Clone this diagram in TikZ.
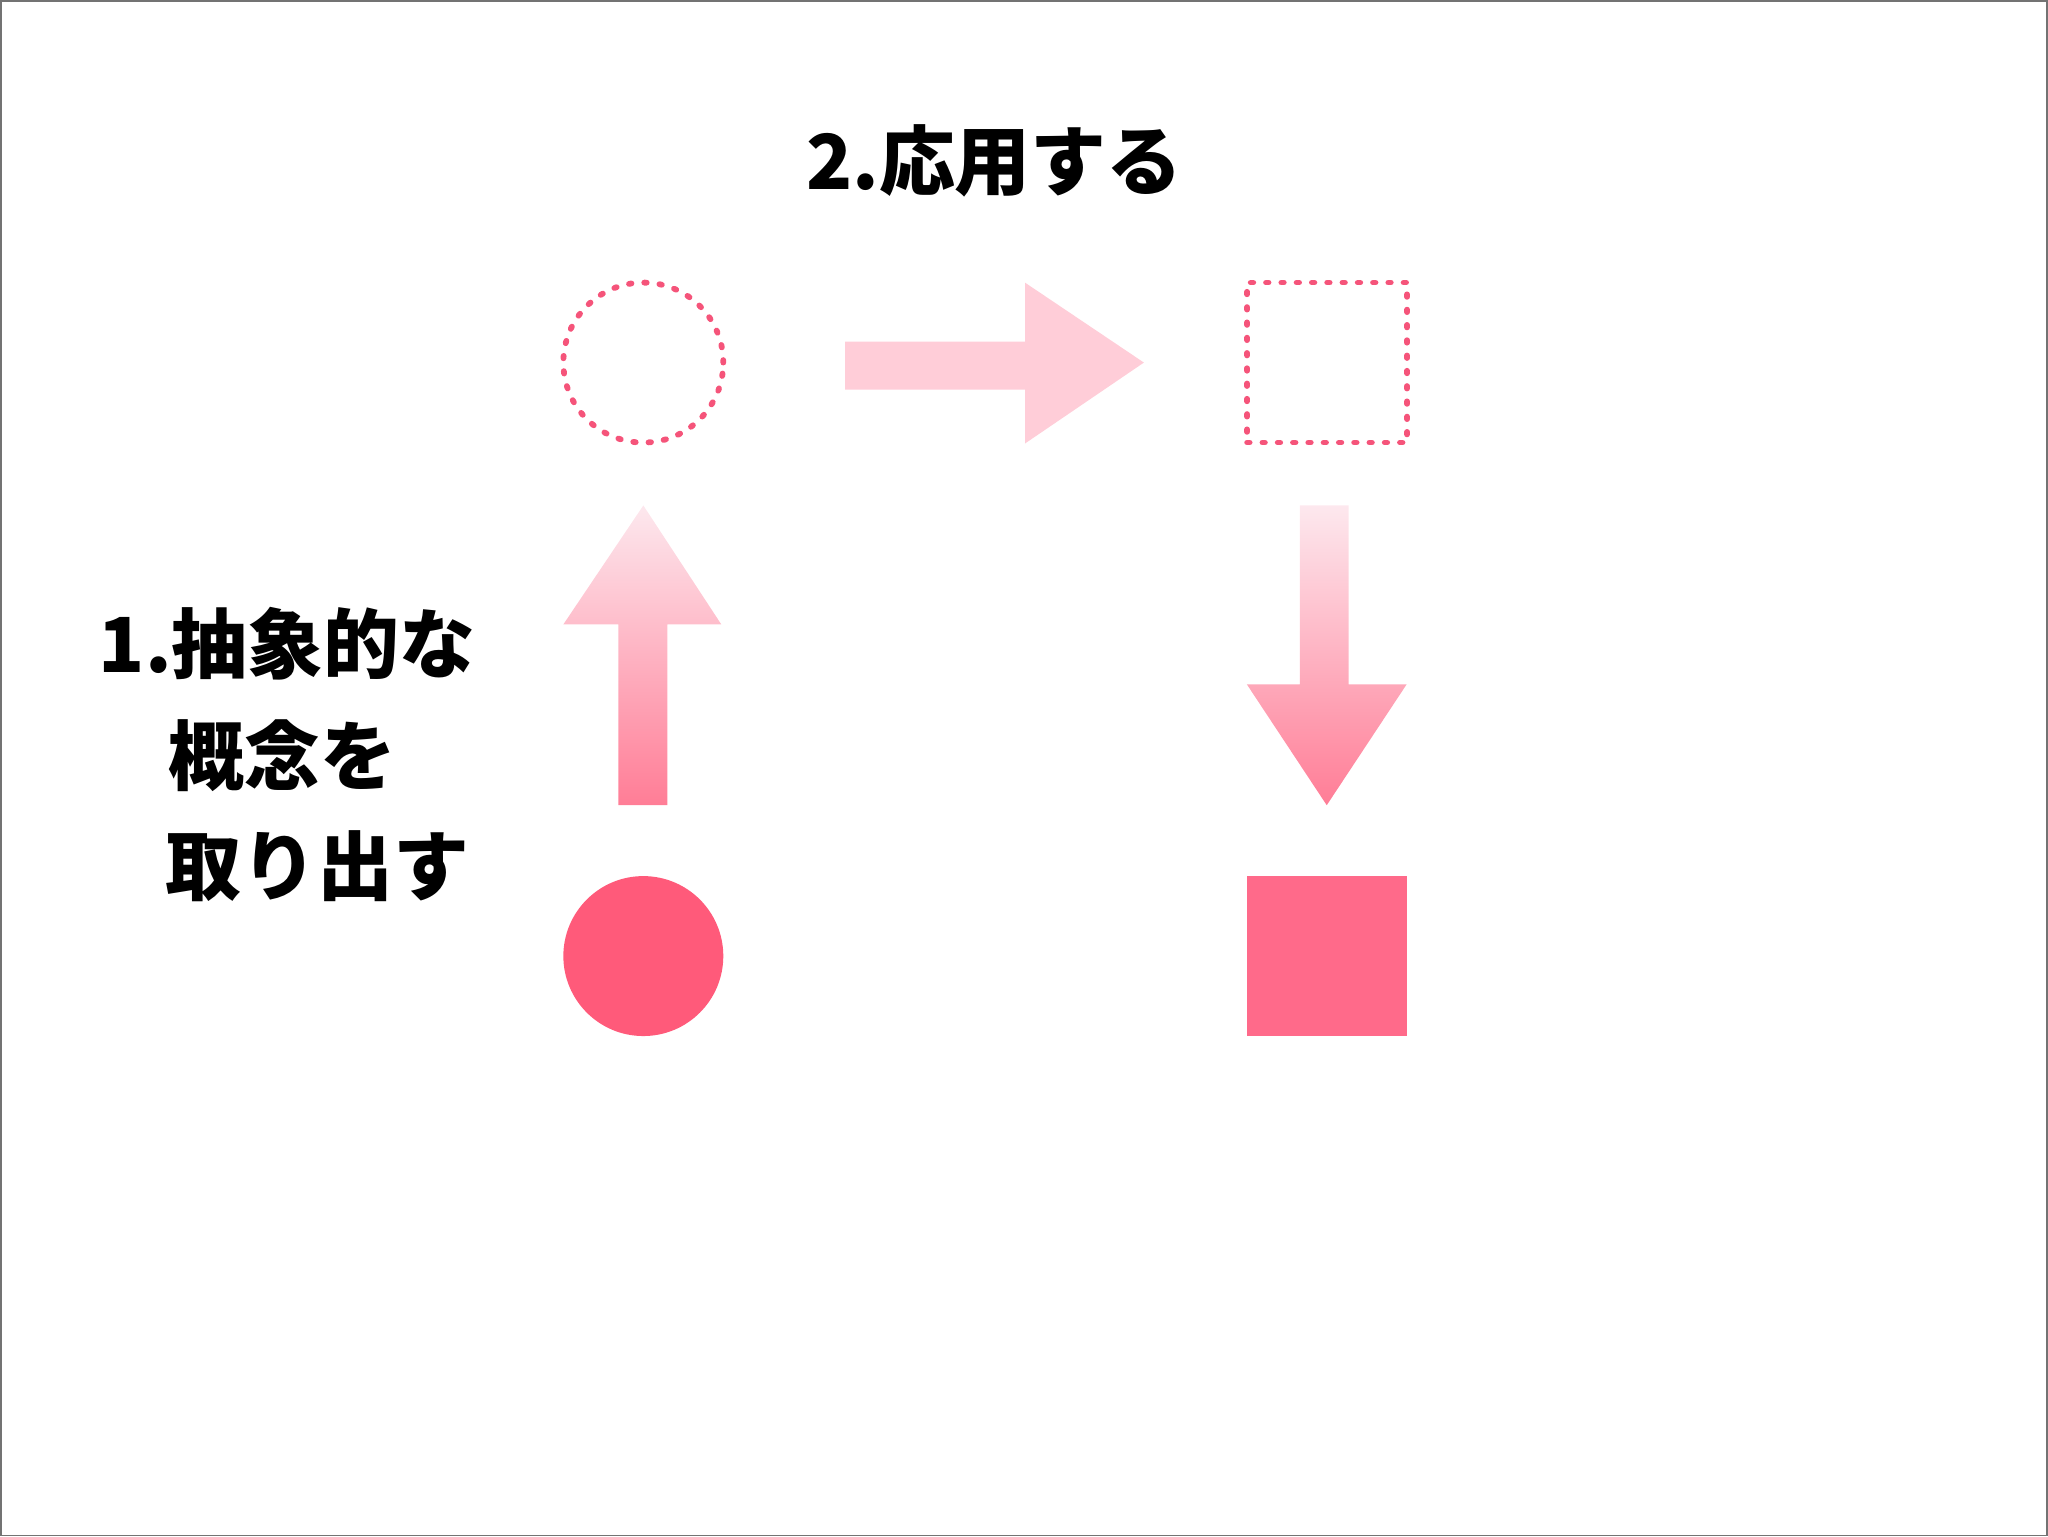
\documentclass[tikz,border=0pt]{standalone}
\usepackage{fontspec}
\newfontfamily\jpfont{Noto Sans CJK JP}
\usetikzlibrary{positioning}

\definecolor{pinkdot}{RGB}{245,84,122}
\definecolor{pinkfill}{RGB}{255,90,122}
\definecolor{pinksq}{RGB}{255,106,138}
\definecolor{pinkpale}{RGB}{255,205,216}
\definecolor{pinktop}{RGB}{253,232,238}
\definecolor{pinkbot}{RGB}{255,125,150}

\begin{document}
\begin{tikzpicture}[x=0.01cm,y=-0.01cm,node distance=6.84cm,
                    every node/.style={inner sep=0pt,outer sep=0pt}]
  \tikzstyle{dotline}=[draw=pinkdot,line width=1.65pt,line cap=round,
                       dash pattern=on 0.7pt off 3.65pt]
  \tikzstyle{label}=[font=\jpfont\bfseries\fontsize{21.6pt}{26pt}\selectfont,
                     anchor=west]

  \draw[gray!90!black,line width=0.5pt] (0,0) rectangle (2048,1536);
  \useasboundingbox (0,0) rectangle (2048,1536);

  \node[circle,dotline,minimum size=1.6cm]    (absC) at (643,362) {};
  \node[rectangle,dotline,minimum size=1.6cm] (absS) [right of=absC] {};
  \node[circle,fill=pinkfill,minimum size=1.6cm] (conC) at (643,956) {};
  \node[rectangle,fill=pinksq,minimum size=1.6cm] (conS) [right of=conC] {};

  % arrows
  \fill[pinkpale] (845,341) -- (1025,341) -- (1025,282) -- (1144,362)
    -- (1025,443) -- (1025,389) -- (845,389) -- cycle;
  \shade[top color=pinktop,bottom color=pinkbot] (618,805) -- (667,805)
    -- (667,624) -- (721,624) -- (643,505) -- (563,624) -- (618,624) -- cycle;
  \shade[top color=pinktop,bottom color=pinkbot] (1300,505) -- (1349,505)
    -- (1349,684) -- (1407,684) -- (1327,805) -- (1247,684) -- (1300,684) -- cycle;

  \node[label] (apply) at (806,160) {2.応用する};
  \node[label] (ext1)  at (98,643)  {1.抽象的な};
  \node[label] (ext2)  at (168,755) {概念を};
  \node[label] (ext3)  at (165,866) {取り出す};
\end{tikzpicture}
\end{document}
